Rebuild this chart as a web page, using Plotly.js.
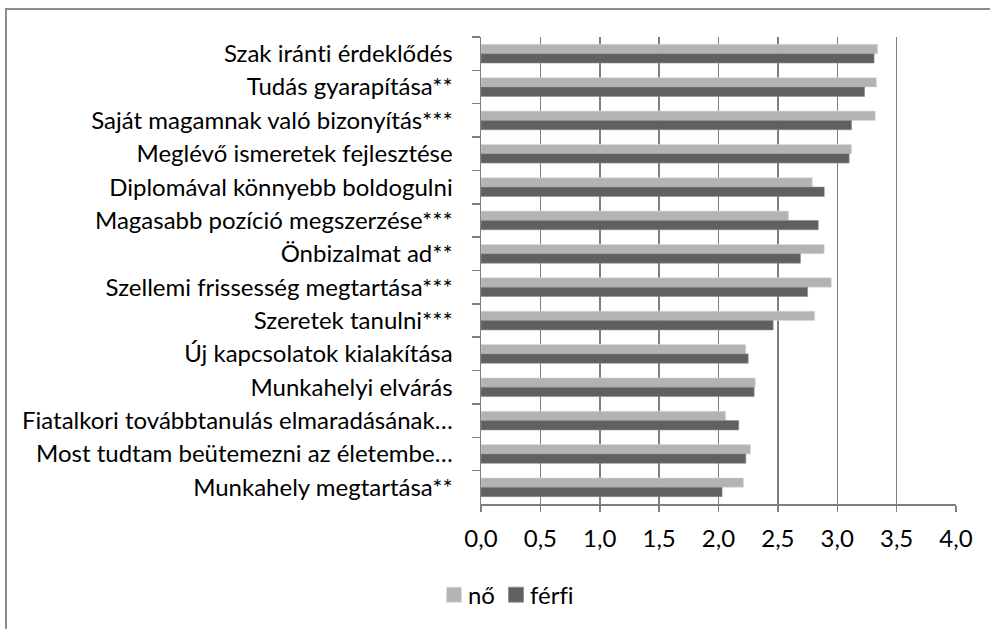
<!DOCTYPE html>
<html>
<head>
<meta charset="utf-8">
<script src="https://cdn.plot.ly/plotly-3.0.1.min.js"></script>
<style>
  html, body { margin: 0; padding: 0; background: #ffffff; overflow: hidden; }
  #frame { position: absolute; left: 5px; top: 8px; width: 1100px; height: 800px;
           border-left: 2px solid #8c8c8c; border-top: 2px solid #8c8c8c; box-sizing: border-box; }
  #chart { position: absolute; left: 0; top: 0; width: 990px; height: 629px; }
  #chart text { font-variant-ligatures: none; font-feature-settings: "liga" 0, "clig" 0; }
</style>
</head>
<body>
<div id="frame"></div>
<div id="chart"></div>
<script>
const categories = [
  "Szak iránti érdeklődés",
  "Tudás gyarapítása**",
  "Saját magamnak való bizonyítás***",
  "Meglévő ismeretek fejlesztése",
  "Diplomával könnyebb boldogulni",
  "Magasabb pozíció megszerzése***",
  "Önbizalmat ad**",
  "Szellemi frissesség megtartása***",
  "Szeretek tanulni***",
  "Új kapcsolatok kialakítása",
  "Munkahelyi elvárás",
  "Fiatalkori továbbtanulás elmaradásának…",
  "Most tudtam beütemezni az életembe…",
  "Munkahely megtartása**"
];
const noValues    = [3.34, 3.33, 3.32, 3.12, 2.79, 2.59, 2.89, 2.95, 2.81, 2.23, 2.31, 2.06, 2.27, 2.21];
const ferfiValues = [3.31, 3.23, 3.12, 3.10, 2.89, 2.84, 2.69, 2.75, 2.46, 2.25, 2.30, 2.17, 2.23, 2.03];
const seriesNames = ["nő", "férfi"];
const xTickValues = [0, 0.5, 1, 1.5, 2, 2.5, 3, 3.5, 4];

const fontFamily = "Lato, 'Open Sans', sans-serif";
const axisColor = "#7f7f7f";

const traces = [
  {
    type: "bar", orientation: "h", name: seriesNames[0],
    y: categories, x: noValues,
    marker: { color: "#b3b3b3", line: { color: "#dcdcdc", width: 0.6 } },
    hoverinfo: "x+y"
  },
  {
    type: "bar", orientation: "h", name: seriesNames[1],
    y: categories, x: ferfiValues,
    marker: { color: "#606060", line: { color: "#8a8a8a", width: 0.6 } },
    hoverinfo: "x+y"
  }
];

const layout = {
  width: 990, height: 629,
  margin: { l: 481, r: 34, t: 37, b: 125, pad: 0 },
  paper_bgcolor: "rgba(0,0,0,0)",
  plot_bgcolor: "rgba(0,0,0,0)",
  separators: ", ",
  barmode: "group",
  bargap: 0.44,
  bargroupgap: 0,
  font: { family: fontFamily, size: 24, color: "#000000" },
  showlegend: true,
  legend: {
    orientation: "h",
    x: -0.099, xanchor: "left",
    y: -0.195, yanchor: "middle",
    font: { family: fontFamily, size: 24, color: "#000000" },
    itemwidth: 30,
    tracegroupgap: 0,
    bgcolor: "rgba(0,0,0,0)"
  },
  xaxis: {
    range: [0, 4],
    tickvals: xTickValues,
    tickformat: ".1f",
    showgrid: true, gridcolor: axisColor, gridwidth: 1.5,
    zeroline: false,
    showline: true, linecolor: axisColor, linewidth: 1.5,
    ticks: "outside", ticklen: 6, tickcolor: axisColor, tickwidth: 1.5,
    ticklabelstandoff: 7,
    tickfont: { family: fontFamily, size: 24, color: "#000000" },
    fixedrange: true
  },
  yaxis: {
    type: "category",
    autorange: "reversed",
    showgrid: false,
    zeroline: false,
    showline: true, linecolor: axisColor, linewidth: 1.5,
    ticks: "outside", tickson: "boundaries", ticklen: 8, tickcolor: axisColor, tickwidth: 1.5,
    ticklabelstandoff: 22,
    tickfont: { family: fontFamily, size: 24, color: "#000000" },
    fixedrange: true
  }
};

Plotly.newPlot("chart", traces, layout, { displayModeBar: false, staticPlot: true }).then(function (gd) {
  // enlarge legend swatches to match the reference's square keys
  gd.querySelectorAll(".legendpoints path").forEach(function (p) {
    const t = p.getAttribute("transform") || "";
    p.setAttribute("transform", (t + " scale(1.25)").trim());
  });
  // tighten legend spacing: text closer to its key, items closer together
  gd.querySelectorAll(".legend .legendtext").forEach(function (el) {
    const x = parseFloat(el.getAttribute("x") || "0");
    el.setAttribute("x", x - 6);
    el.querySelectorAll("tspan.line").forEach(function (ts) {
      const tx = parseFloat(ts.getAttribute("x") || "0");
      ts.setAttribute("x", tx - 6);
    });
  });
  gd.querySelectorAll(".legend .traces").forEach(function (g, i) {
    const t = g.getAttribute("transform") || "";
    const m = /translate\(\s*([-\d.eE]+)[ ,]+([-\d.eE]+)\s*\)/.exec(t);
    if (m) {
      g.setAttribute("transform", "translate(" + (parseFloat(m[1]) - 10 * i) + "," + m[2] + ")");
    }
  });
});
</script>
</body>
</html>
